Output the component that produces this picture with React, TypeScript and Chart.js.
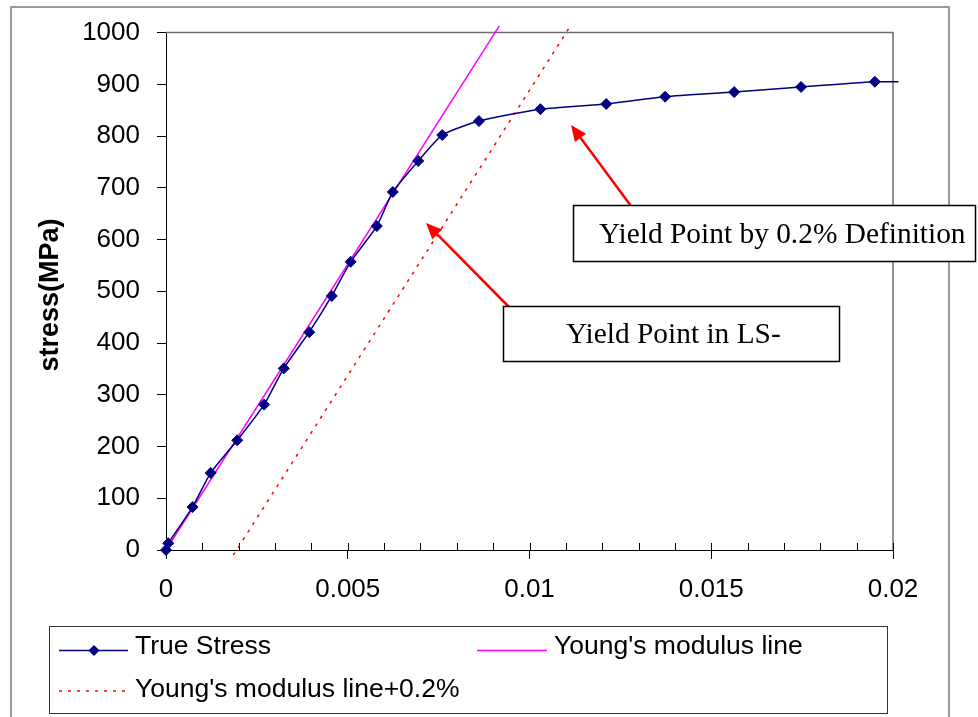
import React, { useEffect, useRef } from 'react';
import { Chart, registerables } from 'chart.js';

Chart.register(...registerables);

// ---- data ----
const strainTrue = [0, 0.000063, 0.00073, 0.00123, 0.00196, 0.0027, 0.00324, 0.00394, 0.00456, 0.00508, 0.0058, 0.00624, 0.00694, 0.0076, 0.00861, 0.0103, 0.01211, 0.01373, 0.01563, 0.01747, 0.0195, 0.02015];
const stressTrue = [0, 13, 83, 149, 212, 281, 351, 421, 491, 557, 626, 692, 752, 802, 829, 852, 862, 876, 885, 895, 905, 905];
const strainYoung = [0, 0.00917];
const stressYoung = [0, 1013];
const strainOffset = [0.00185, 0.01111];
const stressOffset = [-10, 1011];

const xTickLabels = ['0', '0.005', '0.01', '0.015', '0.02'];
const seriesNames = ['True Stress', "Young's modulus line", "Young's modulus line+0.2%"];
const yTitle = 'stress(MPa)';
const note1 = 'Yield Point by 0.2% Definition';
const note2 = 'Yield Point in LS-';

const NAVY = '#000080';
const MAGENTA = '#FF00FF';
const RED = '#FF0000';
const SANS = "'Liberation Sans', Arial, sans-serif";
const SERIF = "'Liberation Serif', 'Times New Roman', serif";

function pts(xs: number[], ys: number[]) {
  return xs.map((x, i) => ({ x, y: ys[i] }));
}

function drawArrow(ctx: CanvasRenderingContext2D, x1: number, y1: number, x2: number, y2: number) {
  const ang = Math.atan2(y2 - y1, x2 - x1);
  const hl = 16;
  const hw = 7;
  const bx = x2 - hl * Math.cos(ang);
  const by = y2 - hl * Math.sin(ang);
  ctx.beginPath();
  ctx.moveTo(x1, y1);
  ctx.lineTo(bx, by);
  ctx.stroke();
  ctx.beginPath();
  ctx.moveTo(x2, y2);
  ctx.lineTo(bx + hw * Math.sin(ang), by - hw * Math.cos(ang));
  ctx.lineTo(bx - hw * Math.sin(ang), by + hw * Math.cos(ang));
  ctx.closePath();
  ctx.fill();
}

function diamond(ctx: CanvasRenderingContext2D, x: number, y: number, r: number) {
  ctx.beginPath();
  ctx.moveTo(x - r, y);
  ctx.lineTo(x, y - r);
  ctx.lineTo(x + r, y);
  ctx.lineTo(x, y + r);
  ctx.closePath();
  ctx.fill();
}

const decor = {
  id: 'decor',
  beforeDraw(chart: any) {
    const ctx = chart.ctx as CanvasRenderingContext2D;
    ctx.save();
    ctx.fillStyle = '#ffffff';
    ctx.fillRect(0, 0, chart.width, chart.height);
    ctx.strokeStyle = '#7a7a7a';
    ctx.lineWidth = 1.5;
    ctx.strokeRect(11, 7, 938, 720);
    ctx.restore();
  },
  beforeDatasetsDraw(chart: any) {
    const ctx = chart.ctx as CanvasRenderingContext2D;
    const { left, right, top, bottom } = chart.chartArea;
    const x = chart.scales.x;
    ctx.save();
    ctx.strokeStyle = '#6e6e6e';
    ctx.lineWidth = 1.5;
    ctx.beginPath();
    ctx.moveTo(left, top);
    ctx.lineTo(right, top);
    ctx.lineTo(right, bottom);
    ctx.stroke();
    ctx.strokeStyle = '#000';
    ctx.lineWidth = 1;
    for (const t of x.ticks) {
      const px = Math.round(x.getPixelForValue(t.value)) + 0.5;
      ctx.beginPath();
      ctx.moveTo(px, bottom);
      ctx.lineTo(px, bottom - 7);
      ctx.stroke();
    }
    ctx.restore();
  },
  afterDraw(chart: any) {
    const ctx = chart.ctx as CanvasRenderingContext2D;
    ctx.save();
    // y axis title
    ctx.save();
    ctx.translate(51, 295);
    ctx.rotate(-Math.PI / 2);
    ctx.font = `bold 27px ${SANS}`;
    ctx.fillStyle = '#000';
    ctx.textAlign = 'center';
    ctx.textBaseline = 'middle';
    ctx.fillText(yTitle, 0, 0);
    ctx.restore();

    // legend
    ctx.strokeStyle = '#333';
    ctx.lineWidth = 1;
    ctx.fillStyle = '#fff';
    ctx.fillRect(49.5, 626.5, 838, 87);
    ctx.strokeRect(49.5, 626.5, 838, 87);
    ctx.font = `26.5px ${SANS}`;
    ctx.textAlign = 'left';
    ctx.textBaseline = 'middle';
    // item 1
    ctx.strokeStyle = NAVY;
    ctx.lineWidth = 1.5;
    ctx.beginPath();
    ctx.moveTo(59, 650.5);
    ctx.lineTo(128, 650.5);
    ctx.stroke();
    ctx.fillStyle = NAVY;
    diamond(ctx, 94, 650.5, 5.5);
    ctx.fillStyle = '#000';
    ctx.fillText(seriesNames[0], 135, 647);
    // item 2
    ctx.strokeStyle = MAGENTA;
    ctx.lineWidth = 1.5;
    ctx.beginPath();
    ctx.moveTo(477, 650.5);
    ctx.lineTo(547, 650.5);
    ctx.stroke();
    ctx.fillText(seriesNames[1], 554, 647);
    // item 3
    ctx.strokeStyle = RED;
    ctx.setLineDash([3, 6]);
    ctx.beginPath();
    ctx.moveTo(59, 691);
    ctx.lineTo(128, 691);
    ctx.stroke();
    ctx.setLineDash([]);
    ctx.fillText(seriesNames[2], 135, 690);

    // annotation arrows
    ctx.strokeStyle = RED;
    ctx.fillStyle = RED;
    ctx.lineWidth = 2.5;
    drawArrow(ctx, 631, 206, 571, 125);
    drawArrow(ctx, 509, 307, 426, 223);

    // annotation boxes
    ctx.lineWidth = 1.5;
    ctx.strokeStyle = '#000';
    ctx.fillStyle = '#fff';
    ctx.fillRect(573.5, 205.5, 402, 56);
    ctx.strokeRect(573.5, 205.5, 402, 56);
    ctx.fillRect(503.5, 306.5, 336, 55);
    ctx.strokeRect(503.5, 306.5, 336, 55);
    ctx.fillStyle = '#000';
    ctx.font = `29.4px ${SERIF}`;
    ctx.textAlign = 'left';
    ctx.textBaseline = 'alphabetic';
    ctx.fillText(note1, 599, 243);
    ctx.fillText(note2, 566, 343);
    ctx.restore();
  },
};

function isMajor(v: number) {
  const k = v / 0.005;
  return Math.abs(k - Math.round(k)) < 1e-6;
}

export default function App() {
  const ref = useRef<HTMLCanvasElement>(null);
  useEffect(() => {
    if (!ref.current) return;
    const chart = new Chart(ref.current, {
      type: 'scatter',
      data: {
        datasets: [
          {
            label: seriesNames[0],
            data: pts(strainTrue, stressTrue),
            showLine: true,
            borderColor: NAVY,
            backgroundColor: NAVY,
            borderWidth: 1.5,
            pointStyle: 'rectRot',
            pointRadius: (c: any) => (c.dataIndex === strainTrue.length - 1 ? 0 : 5.5),
            pointBorderWidth: 1,
            pointBorderColor: NAVY,
            pointBackgroundColor: NAVY,
            tension: 0.2,
            clip: false,
          },
          {
            label: seriesNames[1],
            data: pts(strainYoung, stressYoung),
            showLine: true,
            borderColor: MAGENTA,
            borderWidth: 1.5,
            pointRadius: 0,
            clip: false,
          },
          {
            label: seriesNames[2],
            data: pts(strainOffset, stressOffset),
            showLine: true,
            borderColor: RED,
            borderWidth: 1.5,
            borderDash: [3, 6],
            pointRadius: 0,
            clip: false,
          },
        ] as any,
      },
      options: {
        responsive: false,
        animation: false,
        devicePixelRatio: 1,
        events: [],
        layout: { padding: { left: 0, top: 29, right: 85, bottom: 0 } },
        plugins: {
          legend: { display: false },
          tooltip: { enabled: false },
          title: { display: false },
        },
        scales: {
          x: {
            type: 'linear',
            min: 0,
            max: 0.02,
            afterFit: (s: any) => {
              s.height = 167;
            },
            ticks: {
              stepSize: 0.001,
              maxTicksLimit: 25,
              autoSkip: false,
              maxRotation: 0,
              padding: 15,
              color: '#000',
              font: { family: SANS, size: 26 },
              callback: (v: any) => {
                const n = Number(v);
                if (!isMajor(n)) return '';
                return xTickLabels[Math.round(n / 0.005)];
              },
            },
            grid: {
              drawOnChartArea: false,
              drawTicks: true,
              tickLength: 9,
              tickColor: (c: any) => (c.tick && isMajor(c.tick.value) ? '#000' : 'rgba(0,0,0,0)'),
            },
            border: { display: true, color: '#000', width: 1 },
          },
          y: {
            type: 'linear',
            min: 0,
            max: 1000,
            afterFit: (s: any) => {
              s.width = 166;
            },
            ticks: {
              stepSize: 100,
              padding: 17,
              color: '#000',
              font: { family: SANS, size: 26 },
              callback: (v: any) => String(v),
            },
            grid: {
              drawOnChartArea: false,
              drawTicks: true,
              tickLength: 9,
              tickColor: '#000',
            },
            border: { display: true, color: '#000', width: 1 },
          },
        },
      } as any,
      plugins: [decor],
    });
    return () => chart.destroy();
  }, []);
  return (
    <div style={{ position: 'absolute', left: 0, top: 0, width: 978, height: 717 }}>
      <canvas ref={ref} width={978} height={717} style={{ display: 'block' }} />
    </div>
  );
}
